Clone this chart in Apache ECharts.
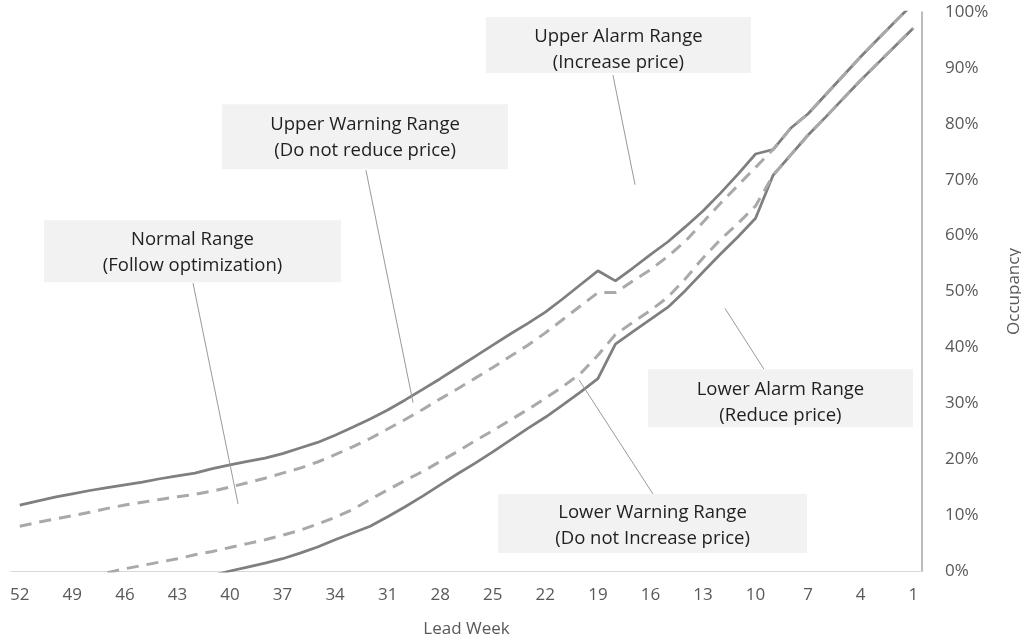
<!DOCTYPE html>
<html>
<head>
<meta charset="utf-8">
<title>Occupancy pricing ranges by lead week</title>
<script src="https://cdn.jsdelivr.net/npm/echarts/dist/echarts.min.js"></script>
<style>
  html, body { margin: 0; padding: 0; background: #ffffff; }
  #chart { width: 1021px; height: 641px; }
</style>
</head>
<body>
<div id="chart"></div>
<script>
// Lead weeks, counting down to arrival
const weeks = ['52','51','50','49','48','47','46','45','44','43','42','41','40','39','38','37','36','35','34','33','32','31','30','29','28','27','26','25','24','23','22','21','20','19','18','17','16','15','14','13','12','11','10','9','8','7','6','5','4','3','2','1'];

// Occupancy thresholds (%) per lead week
const upperAlarm = [11.8,12.5,13.2,13.8,14.4,14.9,15.4,15.9,16.5,17.0,17.5,18.3,19.0,19.6,20.2,21.0,22.0,23.0,24.3,25.7,27.2,28.8,30.6,32.5,34.4,36.4,38.4,40.4,42.4,44.3,46.3,48.7,51.2,53.7,51.9,54.2,56.6,58.9,61.6,64.4,67.6,71.0,74.6,75.4,79.2,81.8,85.2,88.6,92.0,95.2,98.4,101.5];
const upperWarning = [8.0,8.7,9.3,9.9,10.5,11.2,11.8,12.3,12.8,13.3,13.7,14.3,15.0,15.8,16.6,17.5,18.4,19.5,20.8,22.2,23.7,25.4,27.1,28.9,30.8,32.6,34.5,36.4,38.4,40.4,42.6,45.0,47.4,49.8,49.8,51.9,53.9,56.3,59.0,62.4,65.8,69.0,72.2,75.4,79.2,81.8,85.2,88.6,92.0,95.2,98.4,101.5];
const lowerWarning = [null,null,null,null,null,-0.3,0.4,1.0,1.6,2.2,2.9,3.5,4.2,4.9,5.6,6.4,7.3,8.4,9.6,11.0,12.8,14.5,16.2,17.8,19.6,21.4,23.3,25.1,27.0,28.9,30.9,33.0,35.3,38.6,42.3,44.5,46.6,49.0,52.3,56.0,59.3,62.2,65.3,70.8,74.4,78.0,81.2,84.5,87.8,90.9,94.0,97.1];
const lowerAlarm = [null,null,null,null,null,null,null,null,null,null,null,-0.8,0.0,0.7,1.4,2.2,3.2,4.3,5.6,6.8,8.0,9.7,11.5,13.4,15.4,17.4,19.3,21.3,23.4,25.5,27.5,29.7,32.0,34.4,40.6,42.8,45.0,47.2,50.2,53.5,56.7,59.8,63.1,70.8,74.4,78.0,81.2,84.5,87.8,90.9,94.0,97.1];

// Y axis ticks
const yMin = 0, yMax = 100, yStep = 10;

// Callouts naming each range: box centre and leader line given as [lead week, occupancy %];
// textDy nudges the two text lines inside the box (px)
const notes = [
  { lines: ['Upper Alarm Range', '(Increase price)'],          center: [17.83, 94.1], size: [265, 56], textDy: 5, from: [18.14, 88.7], to: [16.88, 69.1] },
  { lines: ['Upper Warning Range', '(Do not reduce price)'],   center: [32.29, 77.7], size: [286, 65], textDy: 1, from: [32.24, 71.7], to: [29.55, 30.1] },
  { lines: ['Normal Range', '(Follow optimization)'],          center: [42.14, 57.2], size: [297, 62], textDy: 1, from: [42.11, 51.5], to: [39.54, 12.0] },
  { lines: ['Lower Alarm Range', '(Reduce price)'],            center: [8.58, 30.9],  size: [265, 58], textDy: 4, from: [9.52, 36.1],  to: [11.75, 47.0] },
  { lines: ['Lower Warning Range', '(Do not Increase price)'], center: [15.88, 8.5],  size: [309, 59], textDy: 2, from: [15.86, 13.8], to: [20.08, 34.2] }
];

const FONT = '"Open Sans", "Noto Sans", sans-serif';
const SOLID = '#7f7f7f';
const DASHED = '#a9a9a9';

const chart = echarts.init(document.getElementById('chart'), null, { renderer: 'canvas' });

function solidSeries(name, data) {
  return {
    name, type: 'line', data, symbol: 'none', smooth: false, z: 2,
    lineStyle: { color: SOLID, width: 2.75 }
  };
}
function dashedSeries(name, data) {
  return {
    name, type: 'line', data, symbol: 'none', smooth: false, z: 3,
    lineStyle: { color: DASHED, width: 3, type: [12, 8] }
  };
}

chart.setOption({
  animation: false,
  backgroundColor: '#ffffff',
  grid: { left: 11, right: 99, top: 12, bottom: 70, containLabel: false, outerBoundsMode: 'none' },
  xAxis: {
    type: 'category',
    data: weeks,
    boundaryGap: true,
    name: 'Lead Week',
    nameLocation: 'middle',
    nameGap: 50,
    nameTextStyle: { color: '#595959', fontSize: 17, fontFamily: FONT },
    axisLine: { show: true, lineStyle: { color: '#d9d9d9', width: 1 } },
    axisTick: { show: false },
    axisLabel: { interval: 2, color: '#595959', fontSize: 17, fontFamily: FONT, margin: 16 },
    splitLine: { show: false }
  },
  yAxis: {
    type: 'value',
    position: 'right',
    min: yMin, max: yMax, interval: yStep,
    name: 'Occupancy',
    nameLocation: 'middle',
    nameRotate: 90,
    nameGap: 84,
    nameTextStyle: { color: '#595959', fontSize: 17, fontFamily: FONT },
    axisLine: { show: true, lineStyle: { color: '#a6a6a6', width: 1.5 } },
    axisTick: { show: false },
    axisLabel: { formatter: '{value}%', color: '#595959', fontSize: 17, fontFamily: FONT, margin: 23 },
    splitLine: { show: false }
  },
  series: [
    solidSeries('Upper Alarm', upperAlarm),
    solidSeries('Lower Alarm', lowerAlarm),
    dashedSeries('Upper Warning', upperWarning),
    dashedSeries('Lower Warning', lowerWarning)
  ]
});

// Map [lead week, %] to pixels using the axes' own scales
function toPixel(week, pct) {
  const a = chart.convertToPixel({ gridIndex: 0 }, [0, yMin]);
  const b = chart.convertToPixel({ gridIndex: 0 }, [weeks.length - 1, yMax]);
  const idx = Number(weeks[0]) - week;
  return [
    a[0] + (idx / (weeks.length - 1)) * (b[0] - a[0]),
    a[1] + ((pct - yMin) / (yMax - yMin)) * (b[1] - a[1])
  ];
}

const graphics = [];
notes.forEach(n => {
  const c = toPixel(n.center[0], n.center[1]);
  const p1 = toPixel(n.from[0], n.from[1]);
  const p2 = toPixel(n.to[0], n.to[1]);
  graphics.push({
    type: 'line', z: 50, silent: true,
    shape: { x1: p1[0], y1: p1[1], x2: p2[0], y2: p2[1] },
    style: { stroke: '#9a9a9a', lineWidth: 1 }
  });
  graphics.push({
    type: 'rect', z: 60, silent: true,
    shape: { x: c[0] - n.size[0] / 2, y: c[1] - n.size[1] / 2, width: n.size[0], height: n.size[1] },
    style: { fill: '#f2f2f2' }
  });
  graphics.push({
    type: 'text', z: 61, silent: true,
    x: c[0], y: c[1] + n.textDy,
    style: {
      text: n.lines.join('\n'),
      fill: '#1f1f1f',
      fontSize: 18.5,
      fontFamily: FONT,
      lineHeight: 26,
      align: 'center',
      verticalAlign: 'middle'
    }
  });
});
chart.setOption({ graphic: graphics });
</script>
</body>
</html>
